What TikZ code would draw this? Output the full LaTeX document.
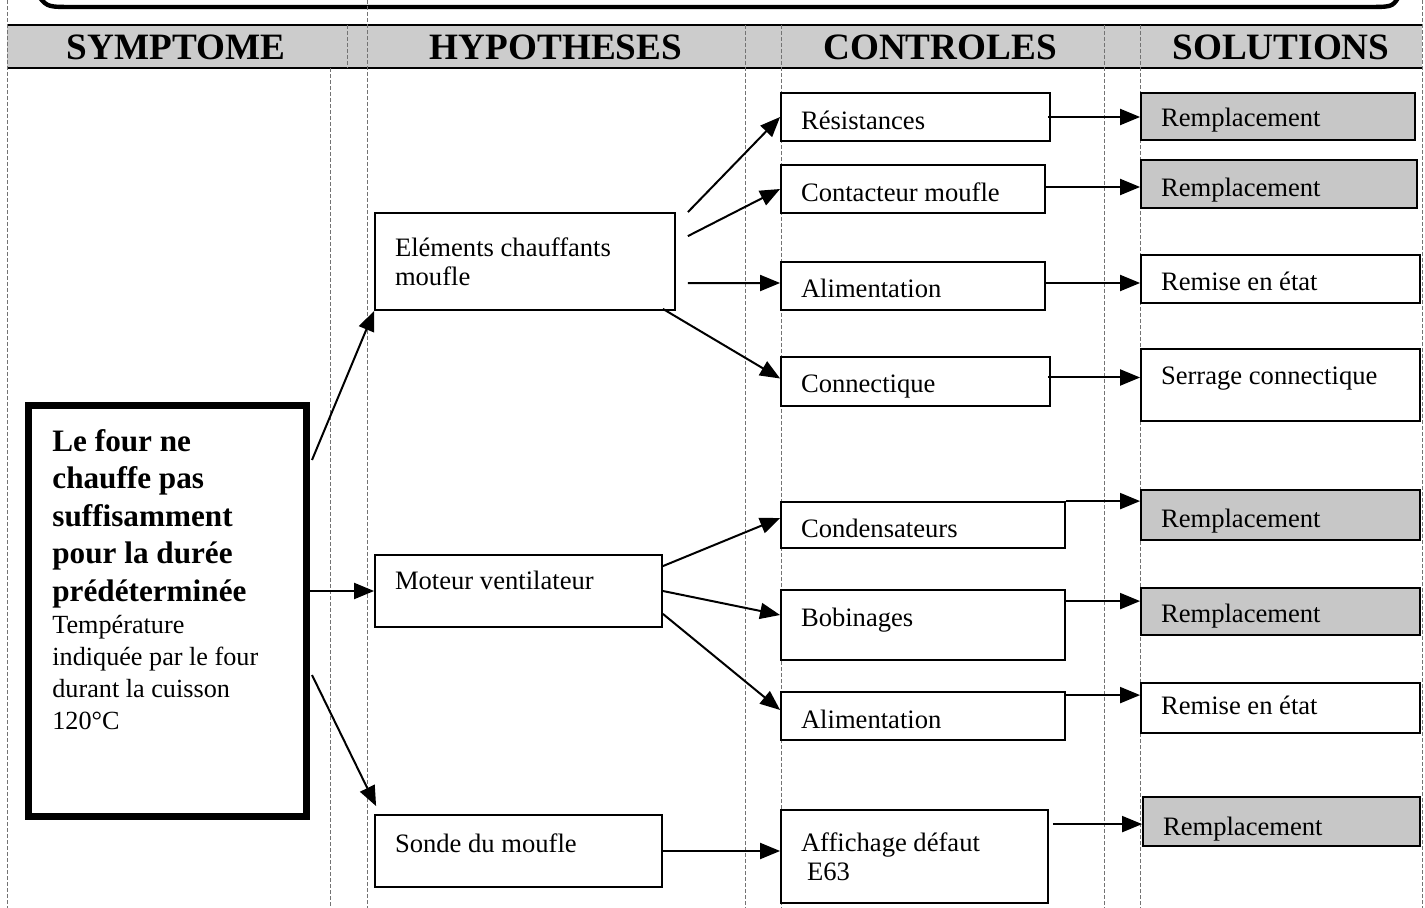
\documentclass[tikz,border=0pt]{standalone}
\usepackage{fontspec}
\setmainfont{Liberation Serif}
\usetikzlibrary{arrows.meta,calc}
% single-line box: name, x1,y1,x2,y2, style, baseline offset from centre (px), text
\newcommand\mkbox[8]{%
  \pgfmathsetmacro\mkW{(#4-#2)*0.5}%
  \pgfmathsetmacro\mkH{(#5-#3)*0.5}%
  \pgfmathsetmacro\mkT{(#4-#2)*0.5-20}%
  \pgfmathsetmacro\mkA{(#7+20)*0.5}%
  \pgfmathsetmacro\mkD{(20-#7)*0.5}%
  \node[box,#6,minimum width=\mkW pt,minimum height=\mkH pt,text width=\mkT pt,
    text height=\mkA pt,text depth=\mkD pt] (#1) at ({(#2+#4)/2},{(#3+#5)/2}) {\spaceskip=0pt\xspaceskip=0pt\relax #8};}
% multi-line box: name, x1,y1,x2,y2, style, text
\newcommand\mkboxm[7]{%
  \pgfmathsetmacro\mkW{(#4-#2)*0.5}%
  \pgfmathsetmacro\mkH{(#5-#3)*0.5}%
  \pgfmathsetmacro\mkT{(#4-#2)*0.5-20}%
  \node[box,#6,minimum width=\mkW pt,minimum height=\mkH pt,text width=\mkT pt] (#1) at ({(#2+#4)/2},{(#3+#5)/2}) {\spaceskip=0pt\xspaceskip=0pt\relax #7};}
\begin{document}
\begin{tikzpicture}[x=0.5pt,y=-0.5pt,
  box/.style={draw, line width=0.9pt, inner xsep=10pt, inner ysep=0pt, align=left,
    font=\fontsize{13.3}{14.5}\selectfont},
  graybox/.style={fill=black!22},
  arr/.style={line width=1pt, -{Triangle[length=10pt,width=8pt]}},
  rulev/.style={black!55, line width=0.5pt, dash pattern=on 2pt off 1pt},
  head/.style={font=\fontsize{18.6}{20}\selectfont\bfseries, inner sep=0pt}]
\useasboundingbox (0,0) rectangle (1425,908);
% top bar
\draw[line width=2.2pt] (40,-2) .. controls (48,7) .. (75,7) -- (1365,7) .. controls (1392,7) .. (1398,-2);
% header band
\fill[black!20] (7,25) rectangle (1422,68);
\draw[line width=0.8pt] (7,25) -- (1422,25);
\draw[line width=0.8pt] (7,68) -- (1422,68);
% vertical rules
\draw[rulev] (7,0) -- (7,908);
\draw[rulev] (1422,0) -- (1422,908);
\draw[rulev] (347,25) -- (347,68);
\draw[rulev] (330,68) -- (330,908);
\draw[rulev] (367,0) -- (367,908);
\draw[rulev] (745,25) -- (745,908);
\draw[rulev] (781,25) -- (781,908);
\draw[rulev] (1104,25) -- (1104,908);
\draw[rulev] (1140,25) -- (1140,908);
% headers
\node[head] (hsym) at (176,47) {SYMPTOME};
\node[head] (hhyp) at (556,47) {HYPOTHESES};
\node[head] (hctl) at (940,47) {CONTROLES};
\node[head] (hsol) at (1281,47) {SOLUTIONS};
% symptom
\node[draw, line width=3.5pt, fill=white, minimum width=139pt, minimum height=205.5pt, inner sep=0pt] (sym) at (167.5,611) {};
\node[anchor=north west, inner sep=0pt, text width=130pt, align=left] (symtxt) at (52,429)
  {\spaceskip=0pt\xspaceskip=0pt\relax
   {\fontsize{15.6}{18.75}\selectfont\bfseries Le four ne\\chauffe pas\\suffisamment\\pour la durée\\prédéterminée\par}%
   {\fontsize{13.1}{16}\selectfont Température\\indiquée par le four\\durant la cuisson\\120°C\par}};
% hypotheses
\mkboxm{el}{375}{213}{675}{310}{fill=white}{Eléments chauffants\\moufle}
\mkbox{mot}{375}{555}{662}{627}{fill=white}{-1}{Moteur ventilateur}
\mkbox{so}{375}{815}{662}{887}{fill=white}{1}{Sonde du moufle}
% controls
\mkbox{res}{781}{93}{1050}{141}{fill=white}{13}{Résistances}
\mkbox{con}{781}{165}{1045}{213}{fill=white}{13}{Contacteur moufle}
\mkbox{ali1}{781}{262}{1045}{310}{fill=white}{12}{Alimentation}
\mkbox{cnx}{781}{357}{1050}{406}{fill=white}{11.5}{Connectique}
\mkbox{cond}{781}{502}{1065}{548}{fill=white}{13}{Condensateurs}
\mkbox{bob}{781}{590}{1065}{660}{fill=white}{2}{Bobinages}
\mkbox{ali2}{781}{692}{1065}{740}{fill=white}{13}{Alimentation}
\mkboxm{aff}{781}{810}{1048}{903}{fill=white}{Affichage défaut\\\hspace*{3pt}E63}
% solutions
\mkbox{r1}{1141}{93}{1415}{140}{graybox}{10.5}{Remplacement}
\mkbox{r2}{1141}{160}{1417}{208}{graybox}{13}{Remplacement}
\mkbox{rem1}{1141}{255}{1420}{303}{fill=white}{12}{Remise en état}
\mkbox{ser}{1141}{349}{1420}{421}{fill=white}{0}{Serrage connectique}
\mkbox{r3}{1141}{490}{1420}{540}{graybox}{13}{Remplacement}
\mkbox{r4}{1141}{588}{1420}{635}{graybox}{11.5}{Remplacement}
\mkbox{rem2}{1141}{683}{1420}{733}{fill=white}{7}{Remise en état}
\mkbox{r5}{1143}{797}{1420}{846}{graybox}{13.5}{Remplacement}
% arrows symptom -> hypotheses
\draw[arr] ($(sym.north east)+(2,58)$) -- (el.south west);
\draw[arr] (sym.east |- mot.west) -- (mot.west);
\draw[arr] ($(sym.north east)+(2,273)$) -- ($(so.north west)+(2,-8)$);
% hypotheses -> controls
\draw[arr] ($(el.north east)+(12,0)$) -- (res.west);
\draw[arr] ($(el.north east)+(12,24)$) -- (con.west);
\draw[arr] ($(el.north east)+(12,71)$) -- ($(ali1.west)+(0,-3)$);
\draw[arr] ($(el.south east)+(-13,-2)$) -- ($(cnx.west)+(0,-3)$);
\draw[arr] ($(mot.north east)+(0,12)$) -- ($(cond.west)+(0,-7)$);
\draw[arr] (mot.east) -- ($(bob.west)+(0,-10)$);
\draw[arr] ($(mot.south east)+(0,-14)$) -- ($(ali2.west)+(0,-6)$);
\draw[arr] (so.east) -- (so.east -| aff.west);
% controls -> solutions
\coordinate (s1) at ($(res.east)+(-3,0)$);
\coordinate (s2) at ($(con.east)+(0,-2)$);
\coordinate (s3) at ($(ali1.east)+(0,-3)$);
\coordinate (s4) at ($(cnx.east)+(-3,-4)$);
\coordinate (s5) at (cond.north east);
\coordinate (s6) at ($(bob.north east)+(0,12)$);
\coordinate (s7) at ($(ali2.north east)+(0,4)$);
\coordinate (s8) at ($(aff.north east)+(4,15)$);
\draw[arr] (s1) -- (s1 -| r1.west);
\draw[arr] (s2) -- (s2 -| r2.west);
\draw[arr] (s3) -- (s3 -| rem1.west);
\draw[arr] (s4) -- (s4 -| ser.west);
\draw[arr] (s5) -- (s5 -| r3.west);
\draw[arr] (s6) -- (s6 -| r4.west);
\draw[arr] (s7) -- (s7 -| rem2.west);
\draw[arr] (s8) -- (s8 -| r5.west);
\end{tikzpicture}
\end{document}
